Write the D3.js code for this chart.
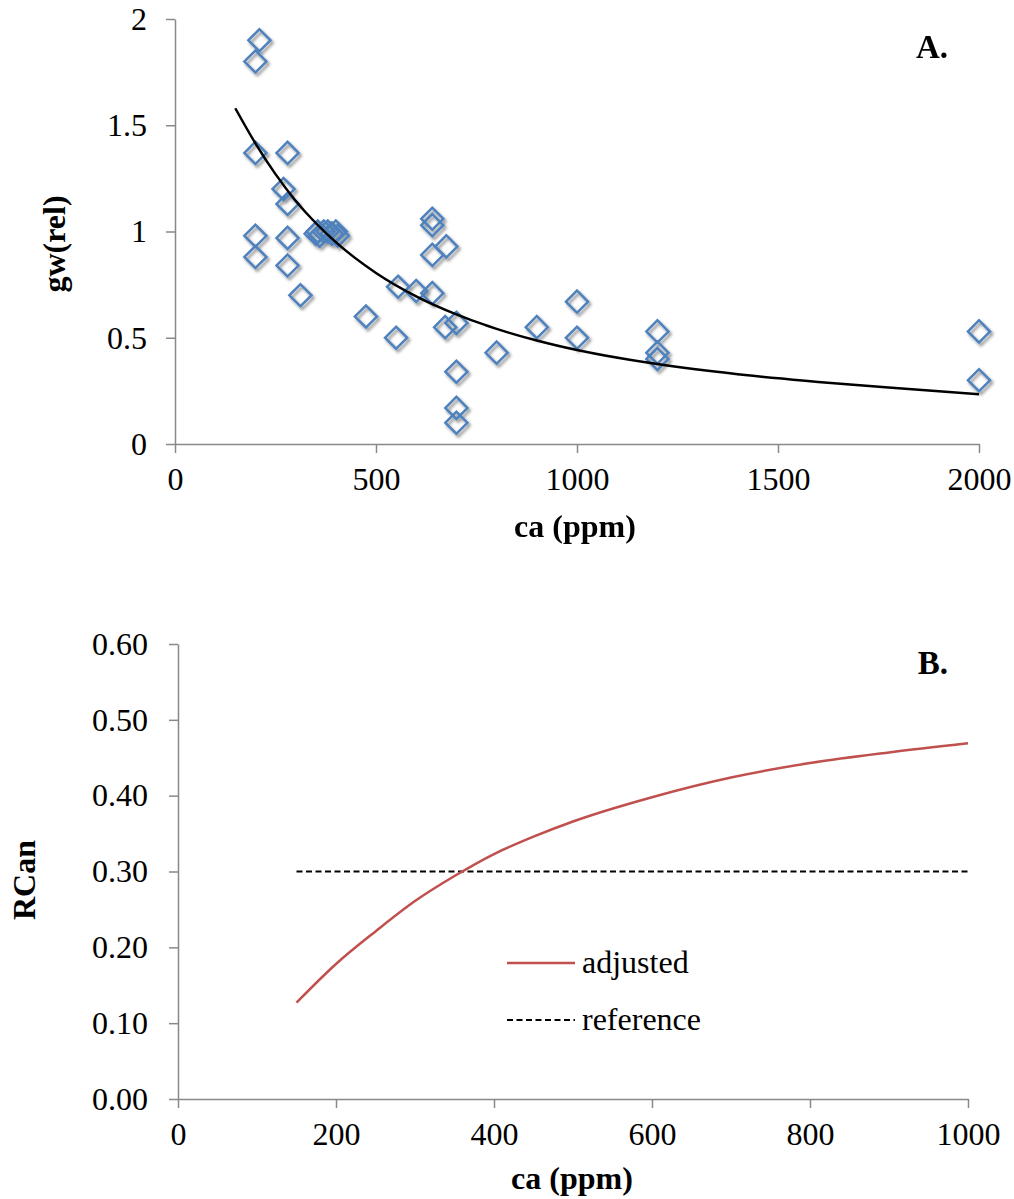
<!DOCTYPE html>
<html lang="en">
<head>
    <meta charset="UTF-8">
    <title>gw(rel) and RCan vs ca</title>
    <script src="https://d3js.org/d3.v7.min.js"></script>
    <style>
        body { margin: 0; background: #fff; }
        svg text { font-family: "Liberation Serif", "Times New Roman", serif; fill: #000; }
        .axis path, .axis line { stroke: #898989; stroke-width: 1.5; }
        .title { font-size: 32px; font-weight: bold; }
    </style>
</head>
<body>
    <svg width="1014" height="1199"></svg>
</body>
<script>
    let serif = '"Liberation Serif", "Times New Roman", serif'

    // panel A: observations
    let obsCa = [210, 200, 200, 280, 270, 280, 280, 200, 200, 280, 312,
        350, 355, 360, 370, 380, 390, 400, 405,
        475, 550, 555, 600, 640, 640, 640, 675, 640, 672, 700, 700, 700, 700,
        800, 900, 1000, 1000, 1200, 1200, 1200, 2000, 2000]
    let obsGw = [1.90, 1.80, 1.37, 1.37, 1.20, 1.13, 0.97, 0.98, 0.88, 0.84, 0.70,
        0.99, 1.00, 0.98, 1.00, 1.00, 0.99, 1.00, 0.98,
        0.60, 0.50, 0.74, 0.72, 1.06, 1.03, 0.89, 0.93, 0.71, 0.55, 0.57, 0.34, 0.17, 0.10,
        0.43, 0.55, 0.67, 0.50, 0.53, 0.43, 0.40, 0.53, 0.30]

    // panel A: fitted curve
    let fitCa = [150, 200, 250, 300, 350, 400, 500, 600, 700, 800, 900, 1000, 1200, 1400, 1600, 1800, 2000]
    let fitGw = [1.58, 1.415, 1.27, 1.145, 1.04, 0.95, 0.805, 0.695, 0.61, 0.542, 0.487, 0.442, 0.376, 0.328, 0.292, 0.262, 0.234]

    let aTicksX = [0, 500, 1000, 1500, 2000]
    let aTicksY = [0, 0.5, 1, 1.5, 2]

    // panel B
    let rcanCa = [150, 200, 250, 300, 350, 400, 450, 500, 600, 700, 800, 900, 1000]
    let rcanAdjusted = [0.127, 0.178, 0.221, 0.261, 0.294, 0.323, 0.346, 0.366, 0.398, 0.424, 0.443, 0.457, 0.469]
    let refCa = [150, 1000]
    let rcanReference = [0.30, 0.30]

    let bTicksX = [0, 200, 400, 600, 800, 1000]
    let bTicksY = [0, 0.1, 0.2, 0.3, 0.4, 0.5, 0.6]

    let svg = d3.select('svg')

    // drop shadow like excel markers
    let defs = svg.append('defs')
    defs.append('filter')
        .attr('id', 'shadow')
        .attr('x', '-50%').attr('y', '-50%').attr('width', '200%').attr('height', '200%')
        .append('feDropShadow')
        .attr('dx', 2).attr('dy', 2.5).attr('stdDeviation', 1.6)
        .attr('flood-color', '#000').attr('flood-opacity', 0.45)

    // ---------- panel A ----------
    let xA = d3.scaleLinear().domain([0, 2000]).range([175, 979])
    let yA = d3.scaleLinear().domain([0, 2]).range([444, 19])

    let gA = svg.append('g')

    gA.append('g')
        .attr('class', 'axis')
        .attr('transform', 'translate(0,' + yA(0) + ')')
        .call(d3.axisBottom(xA).tickValues(aTicksX).tickSize(9).tickSizeOuter(0).tickPadding(14).tickFormat(d3.format('d')))
        .attr('font-family', serif).attr('font-size', 32)

    gA.append('g')
        .attr('class', 'axis')
        .attr('transform', 'translate(' + xA(0) + ',0)')
        .call(d3.axisLeft(yA).tickValues(aTicksY).tickSize(9).tickSizeOuter(0).tickPadding(19).tickFormat(d => d))
        .attr('font-family', serif).attr('font-size', 32)

    let pts = obsCa.map((c, i) => ({ca: c, gw: obsGw[i]}))

    gA.append('g')
        .attr('filter', 'url(#shadow)')
        .selectAll('path')
        .data(pts)
        .join('path')
        .attr('d', d3.symbol(d3.symbolSquare, 245))
        .attr('transform', d => 'translate(' + xA(d.ca) + ',' + yA(d.gw) + ') rotate(45)')
        .attr('fill', 'none')
        .attr('stroke', '#4F81BD')
        .attr('stroke-width', 2.5)

    let fit = fitCa.map((c, i) => [c, fitGw[i]])
    gA.append('path')
        .datum(fit)
        .attr('fill', 'none')
        .attr('stroke', '#000')
        .attr('stroke-width', 2.5)
        .attr('d', d3.line().x(d => xA(d[0])).y(d => yA(d[1])).curve(d3.curveMonotoneX))

    gA.append('text').attr('class', 'title')
        .attr('x', 575).attr('y', 537).attr('text-anchor', 'middle')
        .text('ca (ppm)')
    gA.append('text').attr('class', 'title')
        .attr('transform', 'translate(65,244) rotate(-90)').attr('text-anchor', 'middle')
        .text('gw(rel)')
    gA.append('text').attr('class', 'title')
        .attr('x', 948).attr('y', 58).attr('text-anchor', 'end').style('font-size', '33px')
        .text('A.')

    // ---------- panel B ----------
    let xB = d3.scaleLinear().domain([0, 1000]).range([178, 968])
    let yB = d3.scaleLinear().domain([0, 0.6]).range([1099, 644])

    let gB = svg.append('g')

    gB.append('g')
        .attr('class', 'axis')
        .attr('transform', 'translate(0,' + yB(0) + ')')
        .call(d3.axisBottom(xB).tickValues(bTicksX).tickSize(9).tickSizeOuter(0).tickPadding(14).tickFormat(d3.format('d')))
        .attr('font-family', serif).attr('font-size', 32)

    gB.append('g')
        .attr('class', 'axis')
        .attr('transform', 'translate(' + xB(0) + ',0)')
        .call(d3.axisLeft(yB).tickValues(bTicksY).tickSize(9).tickSizeOuter(0).tickPadding(21).tickFormat(d3.format('.2f')))
        .attr('font-family', serif).attr('font-size', 32)

    let lineB = d3.line().x(d => xB(d[0])).y(d => yB(d[1]))

    gB.append('path')
        .datum(refCa.map((c, i) => [c, rcanReference[i]]))
        .attr('fill', 'none')
        .attr('stroke', '#000')
        .attr('stroke-width', 2.2)
        .attr('stroke-dasharray', '6,3.5')
        .attr('d', lineB)

    gB.append('path')
        .datum(rcanCa.map((c, i) => [c, rcanAdjusted[i]]))
        .attr('fill', 'none')
        .attr('stroke', '#C0504D')
        .attr('stroke-width', 2.5)
        .attr('d', lineB.curve(d3.curveMonotoneX))

    // legend
    let legend = gB.append('g')
    legend.append('line').attr('x1', 507).attr('x2', 575).attr('y1', 963).attr('y2', 963)
        .attr('stroke', '#C0504D').attr('stroke-width', 2.5)
    legend.append('text').attr('x', 582).attr('y', 973).style('font-size', '32px').text('adjusted')
    legend.append('line').attr('x1', 507).attr('x2', 575).attr('y1', 1020).attr('y2', 1020)
        .attr('stroke', '#000').attr('stroke-width', 2.2).attr('stroke-dasharray', '6,3.5')
    legend.append('text').attr('x', 582).attr('y', 1030).style('font-size', '32px').text('reference')

    gB.append('text').attr('class', 'title')
        .attr('x', 572).attr('y', 1189).attr('text-anchor', 'middle')
        .text('ca (ppm)')
    gB.append('text').attr('class', 'title')
        .attr('transform', 'translate(35,880) rotate(-90)').attr('text-anchor', 'middle')
        .text('RCan')
    gB.append('text').attr('class', 'title')
        .attr('x', 948).attr('y', 674).attr('text-anchor', 'end').style('font-size', '33px')
        .text('B.')
</script>
</html>
